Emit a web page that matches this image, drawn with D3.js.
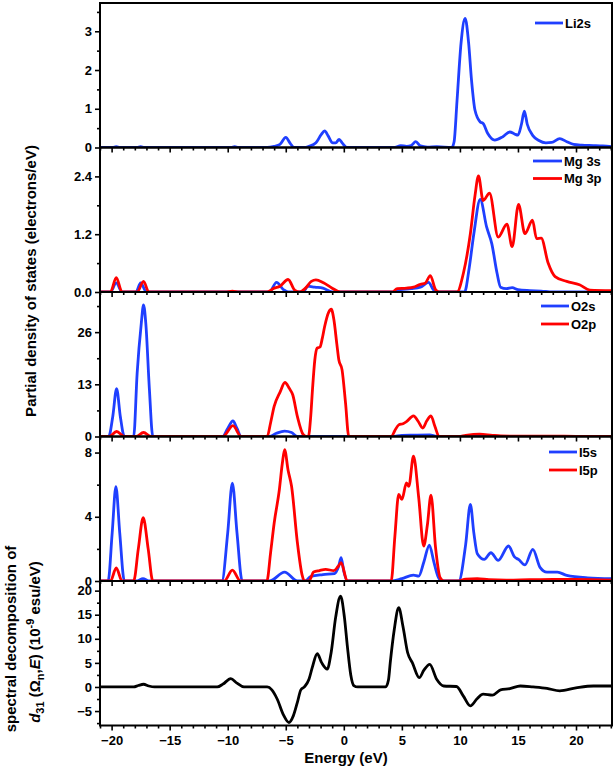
<!DOCTYPE html>
<html><head><meta charset="utf-8">
<script src="https://cdn.jsdelivr.net/npm/d3@7"></script>
<style>
body{margin:0;background:#fff}
svg{display:block}
text{font-family:"Liberation Sans",Arial,sans-serif;font-weight:bold;fill:#000}
</style>
</head><body>
<svg id="c" width="614" height="769"></svg>
<script>
// ---------------- DATA (energy in eV, value) ----------------
const li2s = [[-21,0],[-19.9,0],[-19.6,0.02],[-19.3,0],[-17.8,0],[-17.5,0.02],[-17.2,0],[-9.7,0],[-9.4,0.02],[-9.1,0],
 [-6.6,0],[-6.0,0.03],[-5.5,0.08],[-5.0,0.26],[-4.6,0.1],[-4.3,0],[-3.4,0],[-3.0,0.03],[-2.4,0.12],[-1.95,0.33],[-1.65,0.43],
 [-1.35,0.3],[-0.95,0.12],[-0.7,0.12],[-0.4,0.21],[-0.15,0.12],[0.3,0],[4.4,0],[4.9,0.05],[5.4,0.03],[5.8,0.05],[6.2,0.15],
 [6.6,0.04],[7.2,0.01],[8.0,0.02],[9.3,0],[9.5,0.15],[9.75,1.2],[10.1,2.7],[10.45,3.33],[10.75,2.7],[11.0,1.74],[11.3,0.96],
 [11.75,0.66],[12.0,0.62],[12.4,0.36],[13.0,0.19],[13.7,0.28],[14.3,0.40],[14.7,0.35],[15.0,0.32],[15.3,0.6],[15.55,0.94],
 [15.8,0.6],[16.3,0.30],[16.8,0.18],[17.4,0.12],[17.9,0.13],[18.6,0.23],[19.2,0.15],[19.8,0.08],[20.5,0.06],[21.5,0.05],[22.3,0.04],[23.1,0.02]];

const mg3s = [[-21,0],[-20.1,0],[-19.6,0.19],[-19.1,0],[-17.9,0],[-17.5,0.19],[-17.0,0],[-6.4,0],[-5.8,0.2],[-5.2,0.05],[-4.8,0],
 [-3.5,0],[-3.1,0.12],[-2.5,0.1],[-1.8,0.08],[-1.0,0],[4.4,0],[4.9,0.05],[5.8,0.07],[6.6,0.1],[7.3,0.2],[7.7,0.05],[8.0,0],
 [10.4,0],[10.8,0.5],[11.2,1.21],[11.75,1.92],[12.3,1.35],[12.75,1.0],[13.2,0.39],[13.5,0.1],[14.0,0.07],[14.5,0.09],[15.0,0.05],
 [16.0,0.03],[17.0,0.02],[18,0],[23.1,0]];

const mg3p = [[-21,0],[-20.1,0],[-19.6,0.30],[-19.1,0],[-17.8,0],[-17.25,0.22],[-16.8,0],[-10.2,0],[-9.6,0.02],[-9.0,0],[-6.6,0],
 [-6.0,0.08],[-5.5,0.12],[-4.8,0.26],[-4.2,0.03],[-3.8,0],[-3.3,0.08],[-2.8,0.22],[-2.4,0.25],[-1.75,0.19],[-1.0,0.08],[-0.3,0],
 [4.2,0],[4.6,0.07],[5.4,0.08],[6.0,0.10],[6.6,0.16],[7.0,0.18],[7.45,0.34],[7.9,0.05],[8.2,0],[9.75,0],[10.3,0.39],[10.9,1.21],
 [11.3,2.0],[11.6,2.41],[12.0,1.9],[12.55,2.05],[13.3,1.14],[14.05,1.41],[14.5,0.94],[15.05,1.82],[15.6,1.21],[16.25,1.49],
 [16.6,1.11],[17.0,1.12],[17.6,0.6],[18.2,0.32],[19.2,0.22],[20.3,0.15],[21.2,0.04],[23.1,0.03]];

const o2s = [[-21,0],[-20.25,0],[-19.9,5],[-19.57,11.9],[-19.25,5],[-18.9,0],[-18.1,0],[-17.8,15.8],[-17.45,28],[-17.25,32.8],
 [-17.05,28],[-16.75,12],[-16.45,0],[-10.45,0],[-10.0,2],[-9.55,3.9],[-9.2,2],[-8.85,0],[-6.4,0],[-5.8,0.8],[-5.1,1.35],[-4.5,1.0],
 [-4.0,0],[-0.8,0],[-0.3,0.05],[0.3,0],[4.2,0],[5.0,0.3],[6.0,0.35],[7.4,0.4],[8.0,0],[23.1,0]];

const o2p = [[-21,0],[-20.2,0],[-19.57,1.25],[-18.9,0],[-17.9,0],[-17.25,1.0],[-16.6,0],[-10.4,0],[-9.55,2.7],[-8.85,0],[-6.6,0],
 [-6.3,3.5],[-6.0,7.5],[-5.5,11],[-5.07,13.45],[-4.7,12],[-4.4,10.4],[-4.0,5],[-3.5,0.5],[-3.2,0],[-3.05,0],[-2.85,5],[-2.7,11.6],
 [-2.5,19],[-2.3,22],[-2.05,22.3],[-1.85,24.5],[-1.65,27.4],[-1.3,31],[-1.08,31.7],[-0.85,29],[-0.6,23],[-0.43,19.1],[-0.15,16.6],
 [0.15,8.3],[0.43,0],[4.1,0],[4.4,1.5],[4.73,2.9],[5.1,3.2],[5.4,3.7],[6.0,5.15],[6.4,3.8],[6.8,2.1],[7.15,3.9],[7.5,5.15],
 [7.85,2.5],[8.2,0],[9.9,0],[10.5,0.3],[11.7,0.6],[12.8,0.3],[13.5,0.15],[15,0.1],[17,0.1],[20,0.05],[23.1,0]];

const i5s = [[-21,0],[-20.3,0],[-19.95,3],[-19.63,5.87],[-19.3,3],[-18.9,0],[-17.8,0],[-17.3,0.15],[-16.8,0],[-10.5,0],[-10.0,3],
 [-9.6,6.1],[-9.2,3],[-8.75,0],[-6.4,0],[-5.1,0.55],[-4.0,0],[-3.3,0],[-2.86,0.28],[-1.8,0.4],[-0.8,0.46],[-0.45,0.9],[-0.23,1.45],
 [0.0,0.6],[0.3,0],[4.1,0],[5.0,0.15],[6.0,0.36],[6.45,0.3],[6.9,1.2],[7.37,2.24],[7.75,1.2],[8.1,0.3],[8.4,0],[9.9,0],[10.5,2.3],
 [10.9,4.77],[11.2,3.0],[11.5,1.7],[12.1,1.35],[12.67,1.76],[13.3,1.28],[14.19,2.18],[14.7,1.5],[15.05,1.34],[15.6,1.0],[16.28,1.97],
 [16.9,0.85],[17.5,0.55],[18.4,0.55],[19.2,0.35],[21,0.2],[23.1,0.15]];

const i5p = [[-21,0],[-20.1,0],[-19.6,0.81],[-19.1,0],[-18.1,0],[-17.7,2],[-17.28,3.94],[-16.85,2],[-16.45,0],[-10.3,0],[-9.6,0.68],
 [-8.9,0],[-6.63,0],[-6.3,1.8],[-6.0,3.6],[-5.55,5.7],[-5.3,7.3],[-5.1,8.18],[-4.8,6.9],[-4.5,5.9],[-4.0,2.4],[-3.6,0.4],[-3.4,0],
 [-3.0,0],[-2.6,0.56],[-2.1,0.65],[-1.56,0.72],[-0.85,0.65],[-0.5,0.9],[-0.23,1.14],[0.3,0],[4.08,0],[4.4,2.8],[4.73,5.39],[5.0,5.08],
 [5.4,6.11],[5.6,5.9],[6.0,7.77],[6.45,5.2],[6.88,2.18],[7.2,3.5],[7.51,5.35],[7.9,2.1],[8.3,0.2],[8.6,0],[9.8,0],[10.5,0.12],
 [11.5,0.15],[12.5,0.08],[14,0.05],[16,0.08],[18,0.1],[20,0.1],[23.1,0.05]];

const d31 = [[-21,0],[-18.1,0],[-17.7,0.3],[-17.25,0.56],[-16.8,0.2],[-16.3,0],[-10.9,0],[-10.4,0.6],[-9.74,1.74],[-9.2,0.8],
 [-8.6,0],[-6.6,0],[-6.2,-0.6],[-5.73,-2.55],[-5.2,-5.8],[-4.73,-7.38],[-4.35,-6.0],[-4.0,-3.2],[-3.7,-0.6],[-3.4,0],[-3.0,1.6],
 [-2.72,4.0],[-2.29,6.9],[-1.9,5.0],[-1.43,3.7],[-1.1,7.0],[-0.7,14.5],[-0.28,18.85],[0.05,14.5],[0.3,8.6],[0.6,2.5],
 [0.86,0.3],[1.2,0],[3.6,0],[3.85,1.5],[4.0,5.05],[4.35,12],[4.73,16.45],[5.1,12.5],[5.5,7.1],[5.9,5.05],[6.5,1.94],[6.9,3.5],
 [7.4,4.7],[8.0,1.6],[8.6,0.2],[9.7,0.1],[10.3,-1.9],[10.9,-3.93],[11.5,-2.4],[12.0,-1.5],[12.8,-1.7],[13.5,-0.6],[14.3,-0.35],
 [15.2,0.2],[16.3,0.0],[17.5,-0.3],[18.6,-0.8],[20.0,-0.2],[21.5,0.2],[23.1,0.2]];

const xMajorTicks = [-20,-15,-10,-5,0,5,10,15,20];
const p1Ticks = [0,1,2,3], p2Ticks = [0,1.2,2.4], p3Ticks = [0,13,26], p4Ticks = [0,4,8], p5Ticks = [-5,0,5,10,15,20];
const legendLabels = [["Li2s"],["Mg 3s","Mg 3p"],["O2s","O2p"],["I5s","I5p"],[]];
const xLabel = "Energy (eV)";
const yLabel = "Partial density of states (electrons/eV)";

// ---------------- LAYOUT ----------------
const BLUE = "#1f3fff", RED = "#ff0000", BLACK = "#000";
const svg = d3.select("#c");
const L = 100, R = 612, H = 144.5;
const tops = [3, 147.5, 292, 436.5, 581];
const x = d3.scaleLinear().domain([-21, 23.1]).range([L, R]);
const xMinor = d3.range(-21, 24, 1).filter(v => !xMajorTicks.includes(v));

const panels = [
  {dom:[0,3.73], ticks:p1Ticks, minor:[0.5,1.5,2.5,3.5], fmt:d3.format("d"), series:[[li2s,BLUE]], leg:{x:535,y:[23],w:28}},
  {dom:[0,3.0], ticks:p2Ticks, minor:[0.6,1.8], fmt:d3.format(".1f"), series:[[mg3s,BLUE],[mg3p,RED]], leg:{x:533,y:[161,178.5],w:29}},
  {dom:[0,36], ticks:p3Ticks, minor:[6.5,19.5,32.5], fmt:d3.format("d"), series:[[o2s,BLUE],[o2p,RED]], leg:{x:541,y:[306,324],w:28}},
  {dom:[0,9], ticks:p4Ticks, minor:[2,6], fmt:d3.format("d"), series:[[i5s,BLUE],[i5p,RED]], leg:{x:549,y:[452,470],w:28}},
  {dom:[-8,22], ticks:p5Ticks, minor:[-7.5,-2.5,2.5,7.5,12.5,17.5], fmt:d3.format("d"), series:[[d31,BLACK]], leg:null}
];

const defs = svg.append("defs");
panels.forEach((p, i) => {
  const top = tops[i], bot = top + H;
  const y = d3.scaleLinear().domain(p.dom).range([bot, top]);
  const g = svg.append("g");
  defs.append("clipPath").attr("id","cp"+i).append("rect")
    .attr("x", L).attr("y", top).attr("width", R-L).attr("height", H);
  const line = d3.line().x(d => x(d[0])).y(d => y(d[1])).curve(d3.curveMonotoneX);
  const cg = g.append("g").attr("clip-path", `url(#cp${i})`);
  p.series.forEach(([data, col]) => {
    cg.append("path").datum(data).attr("d", line)
      .attr("fill","none").attr("stroke", col).attr("stroke-width", 2.8).attr("stroke-linejoin","round");
  });
  g.append("rect").attr("x", L).attr("y", top).attr("width", R-L).attr("height", H)
    .attr("fill","none").attr("stroke","#000").attr("stroke-width",2);
  const ya = g.append("g").attr("transform", `translate(${L},0)`)
    .call(d3.axisLeft(y).tickValues(p.ticks).tickFormat(p.fmt).tickSize(5).tickPadding(3));
  const ym = g.append("g").attr("transform", `translate(${L},0)`)
    .call(d3.axisLeft(y).tickValues(p.minor).tickFormat("").tickSize(3));
  const xa = g.append("g").attr("transform", `translate(0,${bot})`)
    .call(d3.axisBottom(x).tickValues(xMajorTicks).tickFormat(i===4 ? d3.format("d") : "").tickSize(5).tickPadding(5));
  const xm = g.append("g").attr("transform", `translate(0,${bot})`)
    .call(d3.axisBottom(x).tickValues(xMinor).tickFormat("").tickSize(3));
  [ya, ym, xa, xm].forEach(a => {
    a.select(".domain").remove();
    a.selectAll("line").attr("stroke","#000").attr("stroke-width",1.6);
    a.selectAll("text").attr("font-family",'"Liberation Sans",Arial,sans-serif')
      .attr("font-weight","bold").attr("font-size",13).attr("fill","#000");
  });
  if (p.leg) {
    legendLabels[i].forEach((lab, k) => {
      const col = p.series[k][1];
      const ly = p.leg.y[k];
      g.append("line").attr("x1", p.leg.x).attr("x2", p.leg.x + p.leg.w)
        .attr("y1", ly).attr("y2", ly).attr("stroke", col).attr("stroke-width", 2.8);
      g.append("text").attr("x", p.leg.x + p.leg.w + 2).attr("y", ly)
        .attr("dy","0.35em").attr("font-size",13).text(lab);
    });
  }
});

svg.append("text").attr("x", 346).attr("y", 763).attr("text-anchor","middle")
  .attr("font-size",15).text(xLabel);
svg.append("text").attr("transform","translate(36,281) rotate(-90)").attr("text-anchor","middle")
  .attr("font-size",15).text(yLabel);
svg.append("text").attr("transform","translate(16,639) rotate(-90)").attr("text-anchor","middle")
  .attr("font-size",15).text("spectral decomposition of");
const t2 = svg.append("text").attr("transform","translate(40,642) rotate(-90)").attr("text-anchor","middle")
  .attr("font-size",15);
t2.append("tspan").attr("font-style","italic").text("d");
t2.append("tspan").attr("font-size",11).attr("dy",4).text("31");
t2.append("tspan").attr("dy",-4).text(" (Ω");
t2.append("tspan").attr("font-size",11).attr("dy",4).text("n");
t2.append("tspan").attr("dy",-4).text(",");
t2.append("tspan").attr("font-style","italic").text("E");
t2.append("tspan").text(") (10");
t2.append("tspan").attr("font-size",11).attr("dy",-6).text("-9");
t2.append("tspan").attr("dy",6).text(" esu/eV)");
</script>
</body></html>
